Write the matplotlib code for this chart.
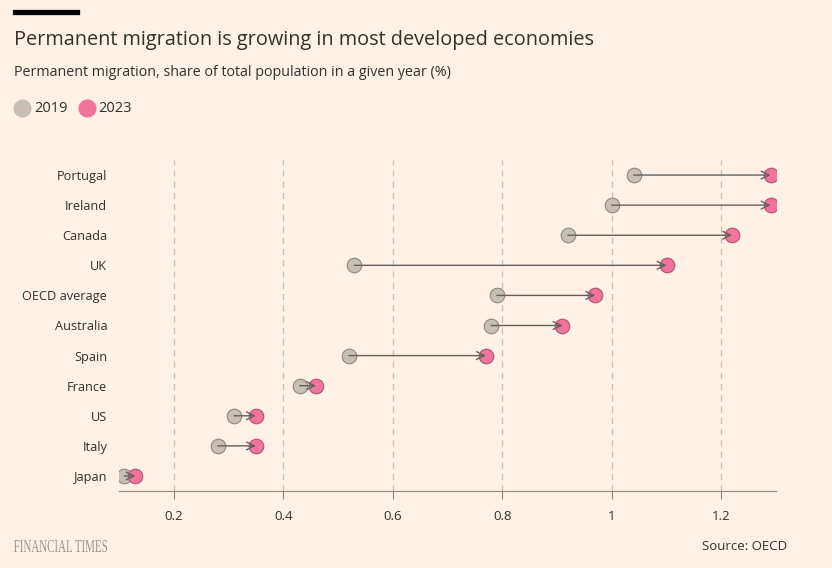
import numpy as np
import matplotlib.pyplot as plt
from matplotlib.lines import Line2D
from matplotlib.textpath import TextPath
from matplotlib.patches import PathPatch
from matplotlib.font_manager import FontProperties
from matplotlib.transforms import Affine2D

countries = ['Portugal', 'Ireland', 'Canada', 'UK', 'OECD average', 'Australia',
             'Spain', 'France', 'US', 'Italy', 'Japan']
v2019 = [1.04, 1.00, 0.92, 0.53, 0.79, 0.78, 0.52, 0.43, 0.31, 0.28, 0.11]
v2023 = [1.29, 1.29, 1.22, 1.10, 0.97, 0.91, 0.77, 0.46, 0.35, 0.35, 0.13]
xticks = [0.2, 0.4, 0.6, 0.8, 1.0, 1.2]
xticklabels = ['0.2', '0.4', '0.6', '0.8', '1', '1.2']

bg = '#FFF1E5'
txt = '#33302E'
grey = '#C7BEB6'
pink = '#F2739B'

plt.rcParams['font.family'] = ['Open Sans', 'DejaVu Sans']

fig = plt.figure(figsize=(8.32, 5.68), dpi=100, facecolor=bg)
ax = fig.add_axes([119/832, 1-491/568, (776-119)/832, (491-160)/568])
ax.set_facecolor(bg)

y = np.arange(len(countries))[::-1]

ax.scatter(v2019, y, s=110, color=grey, edgecolor='#8E8782', linewidth=0.8, zorder=3)
ax.scatter(v2023, y, s=110, color=pink, edgecolor='#A8566F', linewidth=0.8, zorder=3)
for a, b, yy in zip(v2019, v2023, y):
    ax.annotate('', xy=(b, yy), xytext=(a, yy),
                arrowprops=dict(arrowstyle='->', color='#66605C', lw=1.0,
                                shrinkA=0, shrinkB=0, mutation_scale=14),
                zorder=4)

ax.set_xlim(0.1, 1.3)
ax.set_ylim(-0.5, 10.5)
ax.set_yticks(y)
ax.set_yticklabels(countries, fontsize=9.2, color=txt)
ax.set_xticks(xticks)
ax.set_xticklabels(xticklabels, fontsize=9.5, color=txt)
ax.tick_params(axis='y', length=0, pad=8.5)
ax.tick_params(axis='x', length=6, color='#8E8782', pad=8)
ax.xaxis.grid(True, linestyle=(0, (5, 4)), color='#C7BEB6', lw=0.9)
for s in ['top', 'right', 'left']:
    ax.spines[s].set_visible(False)
ax.spines['bottom'].set_color('#8E8782')

fig.add_artist(Line2D([15/832, 77/832], [1-11.5/568, 1-11.5/568], color='black', lw=3.8))
fig.text(14/832, 1-40/568, 'Permanent migration is growing in most developed economies',
         fontsize=14.3, color=txt, va='center')
fig.text(14/832, 1-73/568, 'Permanent migration, share of total population in a given year (%)',
         fontsize=10.3, color=txt, va='center')

fig.add_artist(Line2D([22/832], [1-108/568], marker='o', markersize=12, color=grey,
                      markeredgecolor=grey, linestyle='none'))
fig.text(34/832, 1-109/568, '2019', fontsize=10.5, color=txt, va='center')
fig.add_artist(Line2D([87/832], [1-108/568], marker='o', markersize=12, color=pink,
                      markeredgecolor=pink, linestyle='none'))
fig.text(98/832, 1-109/568, '2023', fontsize=10.5, color=txt, va='center')

# condensed serif wordmark
tp = TextPath((0, 0), 'FINANCIAL TIMES', size=18,
              prop=FontProperties(family='Liberation Serif'))
ext = tp.get_extents()
sx = 93 / ext.width
tr = Affine2D().translate(-ext.x0, 0).scale(sx, 1.0).translate(14, 568 - 552)
fig.add_artist(PathPatch(tr.transform_path(tp), facecolor='#A0958C', lw=0,
                         transform=None))

fig.text(787/832, 1-546/568, 'Source: OECD', fontsize=9.5, color=txt, va='center', ha='right')

fig.savefig('out.png', facecolor=bg)
